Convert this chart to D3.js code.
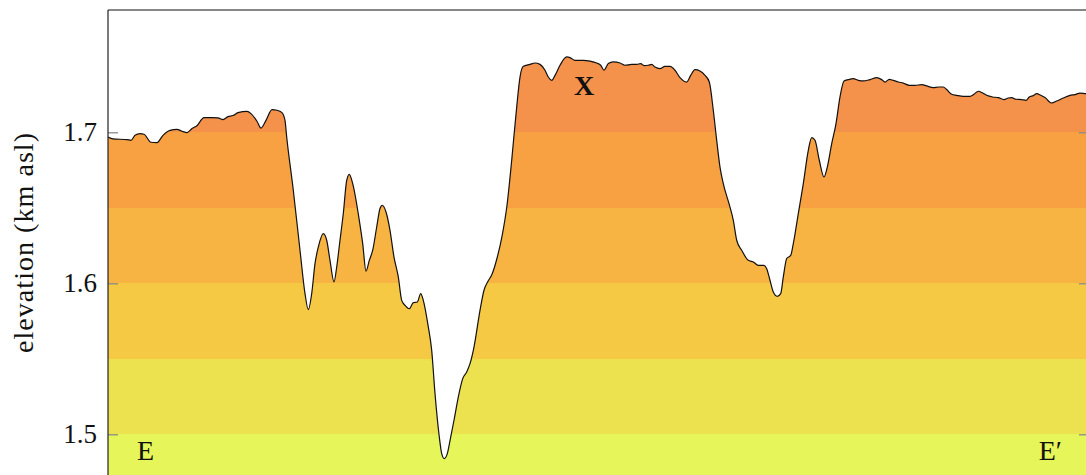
<!DOCTYPE html>
<html>
<head>
<meta charset="utf-8">
<script src="https://cdn.jsdelivr.net/npm/d3@7"></script>
<style>
  html, body { margin: 0; padding: 0; background: #fff; overflow: hidden; }
  svg { display: block; }
</style>
</head>
<body>
<svg id="chart" width="1086" height="475"></svg>
<script>
// Topographic profile E–E′: distance along section (km) and elevation (km asl)
const distanceKm = [
  0.000, 0.050, 0.190, 0.230, 0.270, 0.320, 0.360, 0.430, 0.490, 0.550,
  0.620, 0.690, 0.740, 0.790, 0.840, 0.890, 0.960, 1.040, 1.100, 1.150,
  1.200, 1.250, 1.300, 1.390, 1.430, 1.490, 1.530, 1.580, 1.640, 1.690,
  1.740, 1.770, 1.787, 1.853, 1.920, 1.970, 2.003, 2.037, 2.070, 2.103,
  2.153, 2.187, 2.220, 2.260, 2.287, 2.320, 2.353, 2.387, 2.413, 2.447,
  2.513, 2.547, 2.580, 2.613, 2.647, 2.687, 2.720, 2.743, 2.780, 2.820,
  2.860, 2.903, 2.937, 2.970, 3.013, 3.053, 3.093, 3.127, 3.153, 3.203,
  3.237, 3.270, 3.313, 3.337, 3.363, 3.393, 3.427, 3.460, 3.503, 3.547,
  3.587, 3.620, 3.660, 3.720, 3.760, 3.800, 3.840, 3.890, 3.940, 3.990,
  4.037, 4.087, 4.120, 4.153, 4.220, 4.270, 4.320, 4.370, 4.403, 4.437,
  4.470, 4.520, 4.587, 4.620, 4.670, 4.753, 4.820, 4.887, 4.927, 4.960,
  5.003, 5.053, 5.120, 5.170, 5.237, 5.287, 5.327, 5.360, 5.403, 5.437,
  5.470, 5.520, 5.570, 5.620, 5.670, 5.720, 5.787, 5.827, 5.870, 5.920,
  5.970, 6.013, 6.053, 6.087, 6.120, 6.153, 6.220, 6.253, 6.287, 6.337,
  6.403, 6.453, 6.503, 6.560, 6.587, 6.620, 6.653, 6.693, 6.727, 6.753,
  6.787, 6.827, 6.853, 6.903, 6.953, 7.003, 7.037, 7.070, 7.113, 7.160,
  7.193, 7.237, 7.280, 7.320, 7.360, 7.403, 7.453, 7.503, 7.553, 7.620,
  7.687, 7.737, 7.770, 7.813, 7.853, 7.903, 7.953, 8.013, 8.070, 8.137,
  8.187, 8.253, 8.303, 8.353, 8.387, 8.437, 8.487, 8.553, 8.620, 8.660,
  8.703, 8.747, 8.787, 8.847, 8.903, 8.960, 9.003, 9.037, 9.080, 9.137,
  9.180, 9.213, 9.253, 9.287, 9.327, 9.370, 9.437, 9.487, 9.553, 9.620,
  9.670, 9.720, 9.780, 9.810
];
const elevationKm = [
  1.6969, 1.6956, 1.6952, 1.6947, 1.6980, 1.6991, 1.6987, 1.6934, 1.6932, 1.6980,
  1.7013, 1.7020, 1.7007, 1.6998, 1.7025, 1.7044, 1.7097, 1.7097, 1.7095, 1.7084,
  1.7104, 1.7111, 1.7130, 1.7139, 1.7124, 1.7073, 1.7028, 1.7079, 1.7150, 1.7146,
  1.7130, 1.7079, 1.6969, 1.6616, 1.6219, 1.5932, 1.5826, 1.5932, 1.6130, 1.6240,
  1.6329, 1.6285, 1.6152, 1.6009, 1.6108, 1.6285, 1.6462, 1.6682, 1.6722, 1.6660,
  1.6417, 1.6263, 1.6081, 1.6152, 1.6219, 1.6373, 1.6495, 1.6517, 1.6472, 1.6351,
  1.6174, 1.6042, 1.5887, 1.5854, 1.5832, 1.5872, 1.5876, 1.5932, 1.5887, 1.5711,
  1.5556, 1.5270, 1.4982, 1.4872, 1.4839, 1.4872, 1.4982, 1.5093, 1.5247, 1.5369,
  1.5413, 1.5468, 1.5578, 1.5821, 1.5954, 1.6013, 1.6060, 1.6166, 1.6311, 1.6517,
  1.6815, 1.7168, 1.7366, 1.7437, 1.7450, 1.7459, 1.7450, 1.7411, 1.7366, 1.7344,
  1.7377, 1.7444, 1.7499, 1.7495, 1.7477, 1.7477, 1.7472, 1.7459, 1.7444, 1.7411,
  1.7455, 1.7466, 1.7459, 1.7444, 1.7450, 1.7450, 1.7455, 1.7442, 1.7444, 1.7450,
  1.7432, 1.7422, 1.7437, 1.7437, 1.7411, 1.7362, 1.7333, 1.7377, 1.7415, 1.7406,
  1.7377, 1.7333, 1.7146, 1.6947, 1.6770, 1.6660, 1.6505, 1.6417, 1.6285, 1.6219,
  1.6152, 1.6141, 1.6119, 1.6119, 1.6097, 1.6020, 1.5942, 1.5914, 1.5932, 1.6042,
  1.6164, 1.6185, 1.6263, 1.6462, 1.6660, 1.6881, 1.6965, 1.6947, 1.6815, 1.6704,
  1.6770, 1.6925, 1.7058, 1.7234, 1.7340, 1.7349, 1.7356, 1.7344, 1.7340, 1.7349,
  1.7362, 1.7349, 1.7333, 1.7351, 1.7344, 1.7333, 1.7326, 1.7311, 1.7311, 1.7316,
  1.7307, 1.7296, 1.7300, 1.7300, 1.7283, 1.7252, 1.7245, 1.7238, 1.7238, 1.7252,
  1.7272, 1.7260, 1.7245, 1.7234, 1.7230, 1.7217, 1.7227, 1.7230, 1.7219, 1.7217,
  1.7212, 1.7234, 1.7243, 1.7256, 1.7245, 1.7230, 1.7194, 1.7207, 1.7227, 1.7245,
  1.7250, 1.7260, 1.7256, 1.7258
];

// Elevation bands (km asl) and their fill colours, low to high
const bandEdges = [1.46, 1.50, 1.55, 1.60, 1.65, 1.70, 1.781];
const bandColors = ["#e6f65a", "#ece250", "#f6c944", "#f7b442", "#f7a142", "#f4914a"];

const yTicks = [1.5, 1.6, 1.7];

// Annotations
const endLabels = [
  { text: "E", distance: 0.29, elevation: 1.483, anchor: "start" },
  { text: "E\u2032", distance: 9.54, elevation: 1.483, anchor: "end" }
];
const peakLabel = { text: "X", distance: 4.76, elevation: 1.7245 };

const SERIF = "'Liberation Serif', 'DejaVu Serif', serif";

const svg = d3.select("#chart");

const x = d3.scaleLinear().domain([0, 9.81]).range([108, 1089]);
const y = d3.scaleLinear().domain([1.46, 1.781]).range([494.7, 10]);

const data = distanceKm.map((d, i) => ({ d, e: elevationKm[i] }));

const area = d3.area()
  .x(p => x(p.d))
  .y0(y(1.46))
  .y1(p => y(p.e))
  .curve(d3.curveMonotoneX);

const line = d3.line()
  .x(p => x(p.d))
  .y(p => y(p.e))
  .curve(d3.curveMonotoneX);

svg.append("clipPath")
  .attr("id", "terrain")
  .append("path")
  .attr("d", area(data));

// Colour bands, visible only beneath the ground surface
svg.append("g")
  .attr("clip-path", "url(#terrain)")
  .selectAll("rect")
  .data(bandColors)
  .join("rect")
  .attr("x", x(0))
  .attr("width", x(9.81) - x(0))
  .attr("y", (c, i) => y(bandEdges[i + 1]))
  .attr("height", (c, i) => y(bandEdges[i]) - y(bandEdges[i + 1]))
  .attr("fill", c => c)
  .attr("shape-rendering", "crispEdges");

// Ground surface outline
svg.append("path")
  .attr("d", line(data))
  .attr("fill", "none")
  .attr("stroke", "#111")
  .attr("stroke-width", 1.2)
  .attr("stroke-linejoin", "round");

// Left axis with inward ticks
const leftAxis = svg.append("g")
  .attr("transform", `translate(${x(0)},0)`)
  .call(d3.axisRight(y).tickValues(yTicks).tickSize(10).tickFormat(""));
leftAxis.select(".domain").remove();
leftAxis.selectAll(".tick line").attr("stroke", "#8a8a8a").attr("stroke-width", 1.3);

// Right axis ticks
const rightAxis = svg.append("g")
  .attr("transform", `translate(${x(9.81)},0)`)
  .call(d3.axisLeft(y).tickValues(yTicks).tickSize(10).tickFormat(""));
rightAxis.select(".domain").remove();
rightAxis.selectAll(".tick line").attr("stroke", "#8a8a8a").attr("stroke-width", 1.3);

// Tick labels
svg.append("g")
  .selectAll("text")
  .data(yTicks)
  .join("text")
  .attr("x", 97)
  .attr("y", v => y(v) + 9)
  .attr("text-anchor", "end")
  .attr("font-family", SERIF)
  .attr("font-size", 27)
  .attr("fill", "#111")
  .text(v => d3.format(".1f")(v));

// Frame: left and top edges
svg.append("line")
  .attr("x1", x(0)).attr("x2", x(0))
  .attr("y1", y(1.781)).attr("y2", 475)
  .attr("stroke", "#222").attr("stroke-width", 1.2);
svg.append("line")
  .attr("x1", x(0)).attr("x2", x(9.81))
  .attr("y1", y(1.781)).attr("y2", y(1.781))
  .attr("stroke", "#111").attr("stroke-width", 1.2);

// Axis title
svg.append("text")
  .attr("transform", "translate(33,243) rotate(-90)")
  .attr("text-anchor", "middle")
  .attr("textLength", 220)
  .attr("lengthAdjust", "spacing")
  .attr("font-family", SERIF)
  .attr("font-size", 28)
  .attr("fill", "#111")
  .text("elevation (km asl)");

// Section end labels
svg.append("g")
  .selectAll("text")
  .data(endLabels)
  .join("text")
  .attr("x", l => x(l.distance))
  .attr("y", l => y(l.elevation))
  .attr("text-anchor", l => l.anchor)
  .attr("font-family", SERIF)
  .attr("font-size", 28)
  .attr("fill", "#111")
  .text(l => l.text);

// Peak label
svg.append("text")
  .attr("x", x(peakLabel.distance))
  .attr("y", y(peakLabel.elevation))
  .attr("text-anchor", "middle")
  .attr("font-family", SERIF)
  .attr("font-size", 28)
  .attr("font-weight", "bold")
  .attr("fill", "#111")
  .text(peakLabel.text);
</script>
</body>
</html>
